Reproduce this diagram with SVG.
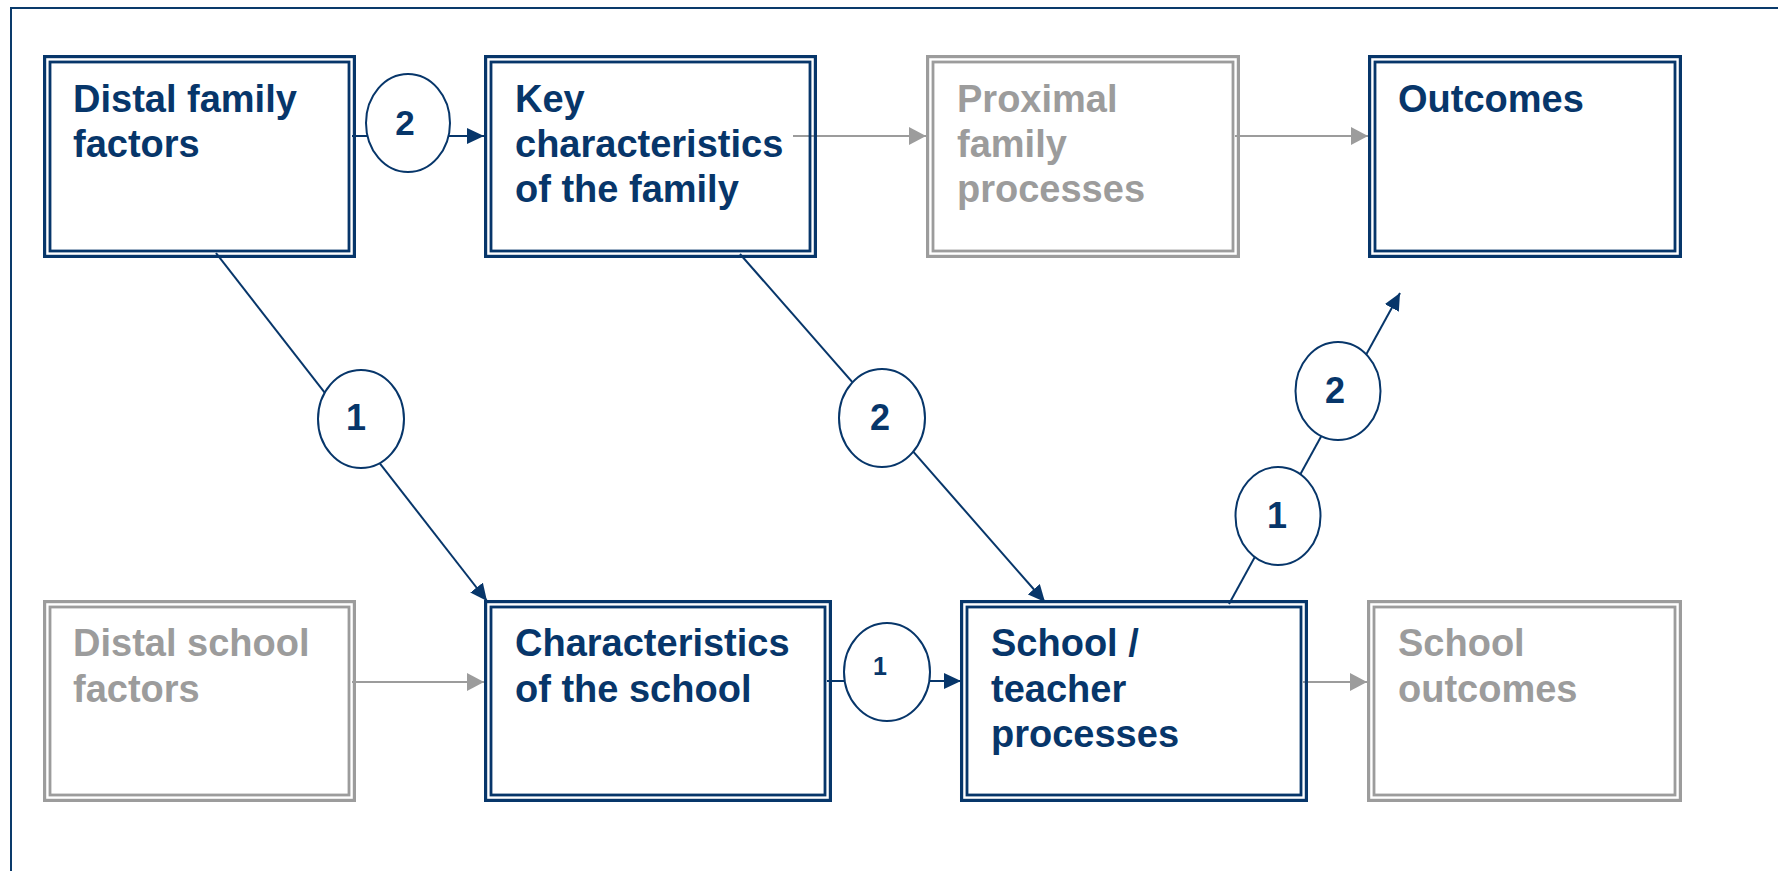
<svg xmlns="http://www.w3.org/2000/svg" width="1778" height="871" viewBox="0 0 1778 871">
<style>
.bg{fill:#ffffff}
.frame{fill:none;stroke:#0a3a6b;stroke-width:2}
.bo{fill:none;stroke-width:3.2}
.bi{fill:none;stroke-width:2.8}
.navy .bo,.navy .bi{stroke:#07366a}
.gray .bo,.gray .bi{stroke:#9c9c9c}
.t{font-family:"Liberation Sans",Arial,sans-serif;font-weight:bold;font-size:38px}
.navy .t{fill:#07366a}
.gray .t{fill:#9c9c9c}
.cn{stroke:#07366a;stroke-width:2;fill:none}
.cg{stroke:#9c9c9c;stroke-width:2.2;fill:none}
.el{fill:#ffffff;stroke:#07366a;stroke-width:2}
.n{font-family:"Liberation Sans",Arial,sans-serif;font-weight:bold;fill:#07366a;text-anchor:middle}
</style>
<defs>
<marker id="an" markerUnits="userSpaceOnUse" markerWidth="17" markerHeight="16" refX="17" refY="8" orient="auto"><path d="M0,0 L17,8 L0,16 z" fill="#07366a"/></marker>
<marker id="ag" markerUnits="userSpaceOnUse" markerWidth="17" markerHeight="18" refX="17" refY="9" orient="auto"><path d="M0,0 L17,9 L0,18 z" fill="#9c9c9c"/></marker>
</defs>
<rect class="bg" x="0" y="0" width="1778" height="871"/>
<path class="frame" d="M11,871 V8 H1778"/>

<g id="connectors">
<line class="cn" x1="352" y1="136" x2="484" y2="136" marker-end="url(#an)"/>
<line class="cg" x1="793" y1="136" x2="926" y2="136" marker-end="url(#ag)"/>
<line class="cg" x1="1235" y1="136" x2="1368" y2="136" marker-end="url(#ag)"/>
<line class="cg" x1="352" y1="682" x2="484" y2="682" marker-end="url(#ag)"/>
<line class="cn" x1="827" y1="681" x2="961" y2="681" marker-end="url(#an)"/>
<line class="cg" x1="1303" y1="682" x2="1367" y2="682" marker-end="url(#ag)"/>
<line class="cn" x1="216" y1="253" x2="487" y2="601" marker-end="url(#an)"/>
<line class="cn" x1="740" y1="254" x2="1045" y2="602" marker-end="url(#an)"/>
<line class="cn" x1="1229" y1="604" x2="1400" y2="293" marker-end="url(#an)"/>
<ellipse class="el" cx="408" cy="123" rx="42" ry="49"/>
<text class="n" x="405" y="135" font-size="35">2</text>
<ellipse class="el" cx="361" cy="419" rx="43" ry="49"/>
<text class="n" x="356" y="430" font-size="36">1</text>
<ellipse class="el" cx="882" cy="418" rx="43" ry="49"/>
<text class="n" x="880" y="430" font-size="36">2</text>
<ellipse class="el" cx="887" cy="672" rx="43" ry="49"/>
<text class="n" x="880" y="675" font-size="25">1</text>
<ellipse class="el" cx="1278" cy="516" rx="42.5" ry="49"/>
<text class="n" x="1277" y="528" font-size="36">1</text>
<ellipse class="el" cx="1338" cy="391" rx="42.5" ry="49"/>
<text class="n" x="1335" y="403" font-size="36">2</text>
</g>

<g id="distal-family" class="navy">
<rect class="bo" x="44.6" y="56.6" width="309.8" height="199.8"/>
<rect class="bi" x="50" y="62" width="299" height="189"/>
<text class="t" x="73" y="112">Distal family</text>
<text class="t" x="73" y="157">factors</text>
</g>

<g id="key-characteristics" class="navy">
<rect class="bo" x="485.6" y="56.6" width="329.8" height="199.8"/>
<rect class="bi" x="491" y="62" width="319" height="189"/>
<text class="t" x="515" y="112">Key</text>
<text class="t" x="515" y="157">characteristics</text>
<text class="t" x="515" y="202">of the family</text>
</g>

<g id="proximal-family" class="gray">
<rect class="bo" x="927.6" y="56.6" width="310.8" height="199.8"/>
<rect class="bi" x="933" y="62" width="300" height="189"/>
<text class="t" x="957" y="112">Proximal</text>
<text class="t" x="957" y="157">family</text>
<text class="t" x="957" y="202">processes</text>
</g>

<g id="outcomes" class="navy">
<rect class="bo" x="1369.6" y="56.6" width="310.8" height="199.8"/>
<rect class="bi" x="1375" y="62" width="300" height="189"/>
<text class="t" x="1398" y="112">Outcomes</text>
</g>

<g id="distal-school" class="gray">
<rect class="bo" x="44.6" y="601.6" width="309.8" height="198.8"/>
<rect class="bi" x="50" y="607" width="299" height="188"/>
<text class="t" x="73" y="656">Distal school</text>
<text class="t" x="73" y="702">factors</text>
</g>

<g id="characteristics-school" class="navy">
<rect class="bo" x="485.6" y="601.6" width="344.8" height="198.8"/>
<rect class="bi" x="491" y="607" width="334" height="188"/>
<text class="t" x="515" y="656">Characteristics</text>
<text class="t" x="515" y="702">of the school</text>
</g>

<g id="school-teacher" class="navy">
<rect class="bo" x="961.6" y="601.6" width="344.8" height="198.8"/>
<rect class="bi" x="967" y="607" width="334" height="188"/>
<text class="t" x="991" y="656">School /</text>
<text class="t" x="991" y="702">teacher</text>
<text class="t" x="991" y="747">processes</text>
</g>

<g id="school-outcomes" class="gray">
<rect class="bo" x="1368.6" y="601.6" width="311.8" height="198.8"/>
<rect class="bi" x="1374" y="607" width="301" height="188"/>
<text class="t" x="1398" y="656">School</text>
<text class="t" x="1398" y="702">outcomes</text>
</g>
</svg>
